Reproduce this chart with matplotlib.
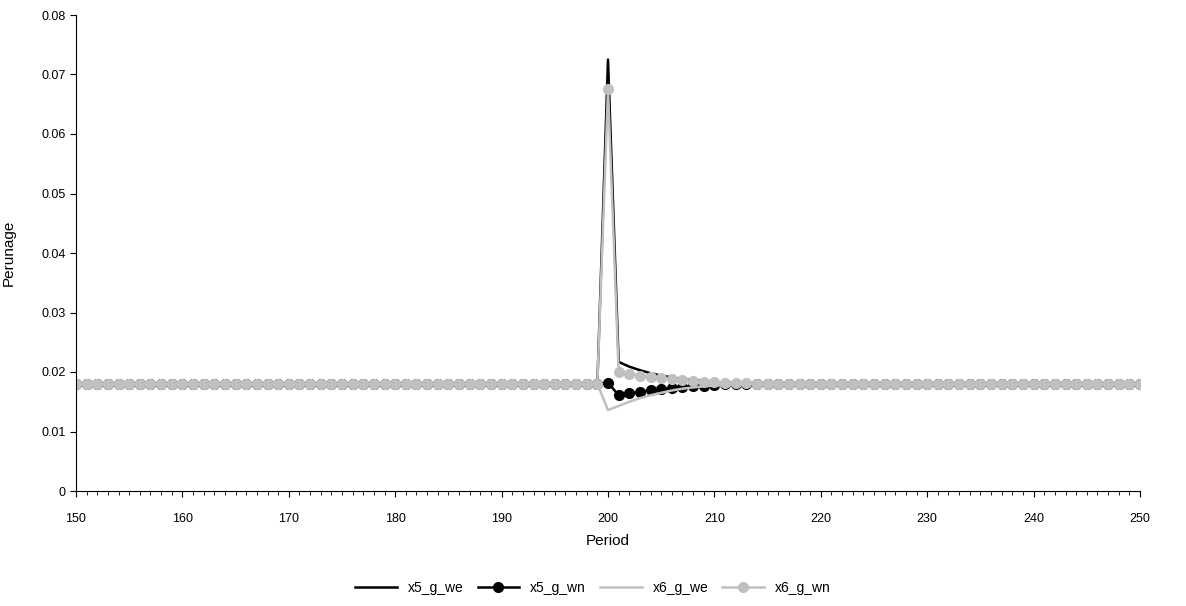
import matplotlib.pyplot as plt
from matplotlib.ticker import MultipleLocator

periods = list(range(150, 251))
base = 0.018
# deviations starting at period 200
x5_we_dev = [0.0725, 0.0217, 0.0209, 0.0203, 0.0198, 0.0194, 0.0191, 0.0188, 0.0186, 0.0185, 0.0183, 0.0182, 0.0181, 0.0181]
x5_wn_dev = [0.0182, 0.0161, 0.0164, 0.0167, 0.0169, 0.0171, 0.0173, 0.0175, 0.0176, 0.0177, 0.0178, 0.0179, 0.0179, 0.0180]
x6_we_dev = [0.0136, 0.0143, 0.0150, 0.0156, 0.0161, 0.0165, 0.0169, 0.0172, 0.0174, 0.0176, 0.0177, 0.0178, 0.0179, 0.0180]
x6_wn_dev = [0.0675, 0.0200, 0.0197, 0.0194, 0.0192, 0.0190, 0.0188, 0.0186, 0.0185, 0.0184, 0.0183, 0.0182, 0.0181, 0.0181]


def series(dev):
    n_before = 200 - 150
    n_after = len(periods) - n_before - len(dev)
    return [base] * n_before + dev + [base] * n_after


x5_g_we = series(x5_we_dev)
x5_g_wn = series(x5_wn_dev)
x6_g_we = series(x6_we_dev)
x6_g_wn = series(x6_wn_dev)

plt.rcParams['font.family'] = ['Liberation Sans', 'DejaVu Sans']
fig = plt.figure(figsize=(11.86, 6.06), dpi=100)
ax = fig.add_axes([76 / 1186, 1 - 491 / 606, (1140 - 76) / 1186, (491 - 15) / 606])

ax.plot(periods, x5_g_we, color='black', lw=1.8, label='x5_g_we')
ax.plot(periods, x5_g_wn, color='black', lw=1.8, marker='o', ms=7, label='x5_g_wn')
ax.plot(periods, x6_g_we, color='#c0c0c0', lw=1.8, label='x6_g_we')
ax.plot(periods, x6_g_wn, color='#c0c0c0', lw=1.8, marker='o', ms=7, label='x6_g_wn')

ax.set_xlim(150, 250)
ax.set_ylim(0, 0.08)
ax.xaxis.set_major_locator(MultipleLocator(10))
ax.xaxis.set_minor_locator(MultipleLocator(1))
ax.yaxis.set_major_locator(MultipleLocator(0.01))
ax.set_yticklabels([f'{v:g}' if v else '0' for v in ax.get_yticks()])
ax.tick_params(axis='x', which='both', direction='out', length=4, labelsize=9, pad=12)
ax.tick_params(axis='x', which='minor', length=3)
ax.tick_params(axis='y', direction='out', length=4, labelsize=9)
ax.spines['top'].set_visible(False)
ax.spines['right'].set_visible(False)
ax.set_xlabel('Period', fontsize=11, labelpad=6)
ax.set_ylabel('Perunage', fontsize=11, labelpad=18)

fig.legend(loc='center', bbox_to_anchor=(0.5, 1 - 588 / 606), ncol=4, frameon=False,
           fontsize=10, handlelength=3, columnspacing=1)

fig.savefig('out.png', dpi=100)
